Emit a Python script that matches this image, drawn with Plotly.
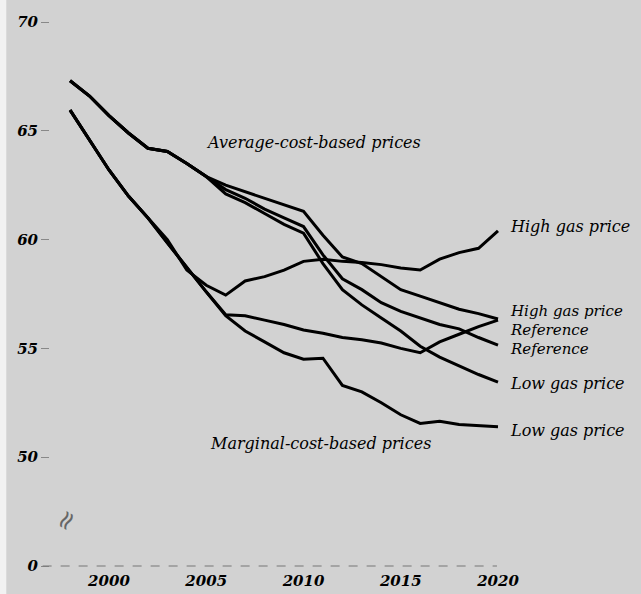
import plotly.graph_objects as go

years = list(range(1998, 2021))

avg_high = [67.3, 66.6, 65.7, 64.9, 64.2, 64.05, 63.5, 62.9, 62.5, 62.2, 61.9, 61.6, 61.3,
            60.2, 59.2, 58.9, 58.3, 57.7, 57.4, 57.1, 56.8, 56.6, 56.35]
avg_ref = [67.3, 66.6, 65.7, 64.9, 64.2, 64.05, 63.5, 62.9, 62.3, 61.9, 61.4, 61.0, 60.6,
           59.3, 58.2, 57.7, 57.1, 56.7, 56.4, 56.1, 55.9, 55.5, 55.15]
avg_low = [67.3, 66.6, 65.7, 64.9, 64.2, 64.05, 63.5, 62.9, 62.1, 61.7, 61.2, 60.7, 60.3,
           58.9, 57.7, 57.0, 56.4, 55.8, 55.1, 54.6, 54.2, 53.8, 53.45]
marg_high = [65.95, 64.6, 63.2, 62.0, 61.0, 60.0, 58.6, 57.9, 57.45, 58.1, 58.3, 58.6, 59.0,
             59.1, 59.0, 58.95, 58.85, 58.7, 58.6, 59.1, 59.4, 59.6, 60.4]
marg_ref = [65.95, 64.6, 63.2, 62.0, 61.0, 59.85, 58.7, 57.6, 56.55, 56.5, 56.3, 56.1, 55.85,
            55.7, 55.5, 55.4, 55.25, 55.0, 54.8, 55.3, 55.65, 56.0, 56.3]
marg_low = [65.95, 64.6, 63.2, 62.0, 61.0, 59.85, 58.7, 57.6, 56.5, 55.8, 55.3, 54.8, 54.5,
            54.55, 53.3, 53.0, 52.5, 51.95, 51.55, 51.65, 51.5, 51.45, 51.4]

series = [avg_high, avg_ref, avg_low, marg_high, marg_ref, marg_low]

end_labels = ["High gas price", "High gas price", "Reference", "Reference",
              "Low gas price", "Low gas price"]
end_label_y = [60.62, 56.7, 55.84, 54.98, 53.4, 51.24]

ytick_vals = [45, 50, 55, 60, 65, 70]
ytick_text = ["0", "50", "55", "60", "65", "70"]
xtick_vals = [2000, 2005, 2010, 2015, 2020]

bg = "#d2d2d2"
lab_font = dict(family="DejaVu Serif", size=16, color="black", style="italic")
stack_font = dict(family="DejaVu Serif", size=15, color="black", style="italic")

fig = go.Figure()
for s in series:
    fig.add_trace(go.Scatter(x=years, y=s, mode="lines",
                             line=dict(color="black", width=3), showlegend=False,
                             hoverinfo="skip"))

# dashed zero baseline
fig.add_shape(type="line", xref="paper", yref="y", x0=-0.016, x1=0.9717,
              y0=45, y1=45, line=dict(color="#777777", width=1, dash="dash"))

for i, (t, yv) in enumerate(zip(end_labels, end_label_y)):
    f = stack_font if i in (1, 2, 3) else lab_font
    fig.add_annotation(x=2020.5, y=yv, text=t, xanchor="left", yanchor="middle",
                       showarrow=False, font=f)

fig.add_annotation(x=2010.49, y=64.48, text="Average-cost-based prices",
                   showarrow=False, font=lab_font)
fig.add_annotation(x=2010.85, y=50.64, text="Marginal-cost-based prices",
                   showarrow=False, font=lab_font)

# axis break symbol
fig.add_annotation(xref="paper", x=-0.012, y=47.1, text="≈", textangle=-60,
                   showarrow=False, font=dict(family="DejaVu Sans", size=26, color="#666666"))

fig.update_layout(
    width=641, height=594,
    margin=dict(l=50, r=131, t=5, b=24),
    paper_bgcolor=bg, plot_bgcolor=bg,
    xaxis=dict(range=[1996.967, 2020.617], tickvals=xtick_vals, showgrid=False,
               zeroline=False, showline=False, ticks="", automargin=False,
               tickfont=dict(family="DejaVu Serif", size=15, color="black",
                             style="italic", weight="bold")),
    yaxis=dict(range=[44.816, 70.782], tickvals=ytick_vals, ticktext=ytick_text,
               showgrid=False, zeroline=False, showline=False, ticks="outside",
               ticklen=8, tickcolor="#888888", automargin=False,
               tickfont=dict(family="DejaVu Serif", size=15, color="black",
                             style="italic", weight="bold")),
)

fig.add_shape(type="rect", xref="paper", yref="paper", x0=-0.112, x1=-0.095,
              y0=-0.1, y1=1.1, fillcolor="#f2f2f2", line=dict(width=0), layer="below")

fig.write_html("out.html", config={"displayModeBar": False},
               post_script="document.body.style.margin='0';document.body.style.overflow='hidden';")
